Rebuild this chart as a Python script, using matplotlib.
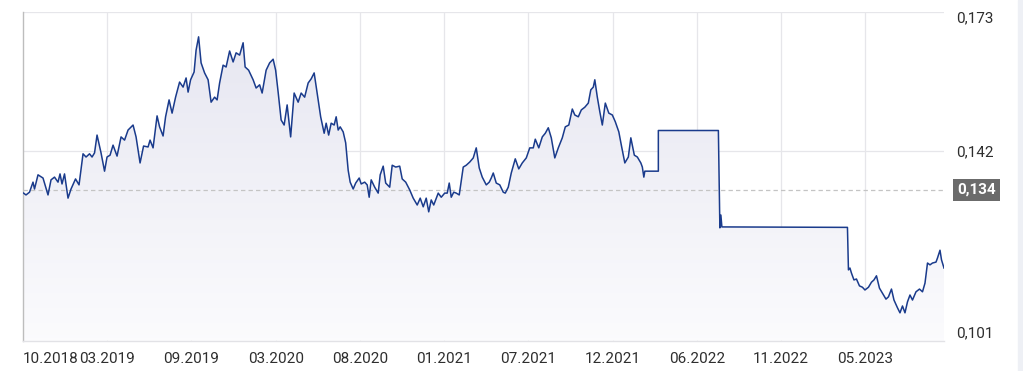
import numpy as np
import matplotlib
matplotlib.use("Agg")
import matplotlib.pyplot as plt
from matplotlib.colors import LinearSegmentedColormap

# ---- data: day offset from start (10.2018) and price ----
days = [1, 6, 13, 20, 23, 30, 40, 50, 56, 63, 70, 74, 78, 83, 90, 96, 105, 112, 120, 126,
        133, 138, 143, 148, 156, 163, 168, 174, 180, 188, 196, 203, 210, 220, 226, 234, 241, 250, 254, 260,
        268, 273, 280, 285, 292, 298, 305, 313, 320, 326, 330, 335, 342, 346, 351, 356, 363, 370, 376, 383,
        388, 393, 400, 406, 413, 420, 426, 433, 440, 444, 451, 460, 466, 473, 478, 486, 493, 500, 505, 510,
        516, 522, 528, 535, 542, 550, 556, 563, 570, 576, 582, 588, 595, 602, 606, 611, 616, 622, 626, 630,
        634, 640, 645, 650, 654, 660, 665, 672, 676, 683, 688, 692, 696, 703, 710, 714, 720, 725, 733, 738,
        745, 753, 758, 765, 773, 780, 788, 794, 800, 806, 811, 816, 821, 830, 836, 843, 848, 852, 856, 861,
        866, 872, 880, 886, 893, 900, 906, 912, 918, 926, 932, 936, 940, 946, 953, 960, 964, 970, 976, 984,
        991, 998, 1006, 1013, 1020, 1024, 1031, 1038, 1044, 1050, 1056, 1063, 1070, 1078, 1084, 1091, 1098, 1103, 1110, 1116,
        1123, 1130, 1135, 1140, 1143, 1148, 1153, 1158, 1164, 1171, 1178, 1184, 1191, 1196, 1203, 1210, 1215, 1222, 1228, 1235,
        1238, 1241, 1243, 1270, 1270, 1390, 1393, 1395, 1397, 1648, 1650, 1653, 1656, 1661, 1666, 1672, 1678, 1683, 1690, 1696,
        1701, 1706, 1712, 1718, 1725, 1730, 1736, 1741, 1748, 1753, 1758, 1763, 1768, 1773, 1778, 1785, 1792, 1798, 1803, 1808,
        1813, 1818, 1825, 1828, 1833, 1836, 1841]
prices = [0.1333, 0.1329, 0.1335, 0.1357, 0.1342, 0.1373, 0.1366, 0.1329, 0.1362, 0.1368, 0.1357, 0.1375, 0.1353, 0.1375, 0.1322, 0.1342, 0.1364, 0.1351, 0.1419, 0.1412,
          0.1419, 0.1412, 0.1421, 0.1460, 0.1421, 0.1381, 0.1412, 0.1416, 0.1438, 0.1414, 0.1456, 0.1449, 0.1471, 0.1482, 0.1456, 0.1399, 0.1436, 0.1434, 0.1449, 0.1432,
          0.1502, 0.1478, 0.1458, 0.1500, 0.1537, 0.1508, 0.1543, 0.1576, 0.1565, 0.1585, 0.1554, 0.1581, 0.1598, 0.1646, 0.1675, 0.1618, 0.1596, 0.1581, 0.1532, 0.1543,
          0.1537, 0.1574, 0.1613, 0.1609, 0.1644, 0.1620, 0.1640, 0.1635, 0.1662, 0.1609, 0.1602, 0.1581, 0.1563, 0.1570, 0.1552, 0.1602, 0.1618, 0.1626, 0.1602, 0.1554,
          0.1493, 0.1482, 0.1526, 0.1456, 0.1552, 0.1532, 0.1552, 0.1543, 0.1574, 0.1583, 0.1596, 0.1552, 0.1500, 0.1464, 0.1486, 0.1460, 0.1486, 0.1482, 0.1500, 0.1471,
          0.1478, 0.1467, 0.1443, 0.1383, 0.1357, 0.1342, 0.1355, 0.1366, 0.1353, 0.1357, 0.1351, 0.1324, 0.1362, 0.1346, 0.1333, 0.1373, 0.1392, 0.1355, 0.1346, 0.1394,
          0.1390, 0.1392, 0.1364, 0.1357, 0.1340, 0.1322, 0.1307, 0.1322, 0.1303, 0.1322, 0.1292, 0.1318, 0.1307, 0.1333, 0.1324, 0.1333, 0.1333, 0.1355, 0.1324, 0.1335,
          0.1333, 0.1329, 0.1390, 0.1394, 0.1401, 0.1410, 0.1432, 0.1388, 0.1368, 0.1351, 0.1357, 0.1366, 0.1377, 0.1355, 0.1351, 0.1335, 0.1333, 0.1346, 0.1377, 0.1408,
          0.1386, 0.1399, 0.1410, 0.1432, 0.1432, 0.1451, 0.1432, 0.1456, 0.1464, 0.1476, 0.1454, 0.1410, 0.1432, 0.1454, 0.1478, 0.1482, 0.1517, 0.1504, 0.1500, 0.1515,
          0.1521, 0.1530, 0.1559, 0.1565, 0.1581, 0.1543, 0.1511, 0.1482, 0.1530, 0.1508, 0.1504, 0.1489, 0.1467, 0.1438, 0.1399, 0.1412, 0.1454, 0.1416, 0.1412, 0.1399,
          0.1390, 0.1368, 0.1381, 0.1381, 0.1470, 0.1470, 0.1257, 0.1285, 0.1259, 0.1258, 0.1165, 0.1169, 0.1158, 0.1143, 0.1145, 0.1130, 0.1127, 0.1121, 0.1127, 0.1138,
          0.1143, 0.1152, 0.1125, 0.1114, 0.1101, 0.1106, 0.1123, 0.1099, 0.1082, 0.1071, 0.1086, 0.1071, 0.1095, 0.1110, 0.1099, 0.1117, 0.1123, 0.1117, 0.1136, 0.1180,
          0.1176, 0.1180, 0.1182, 0.1191, 0.1208, 0.1187, 0.1169]

x_labels = ["10.2018", "03.2019", "09.2019", "03.2020", "08.2020", "01.2021",
            "07.2021", "12.2021", "06.2022", "11.2022", "05.2023"]
tick_step_days = 168.4
y_ticks = [0.101, 0.1425, 0.173]
y_labels = ["0,101", "0,142", "0,173"]
ref_value = 0.134
ref_label = "0,134"

plt.rcParams['font.family'] = ['Roboto', 'DejaVu Sans']

W, H = 1023, 371
fig = plt.figure(figsize=(W / 100, H / 100), dpi=100)
ax_l, ax_r, ax_t, ax_b = 23, 944, 11.7, 340.7
ax = fig.add_axes([ax_l / W, 1 - ax_b / H, (ax_r - ax_l) / W, (ax_b - ax_t) / H])

x = np.array(days, dtype=float)
y = np.array(prices)
xmin, xmax = 0, 1841
ymin, ymax = 0.101, 0.173
ax.set_xlim(xmin, xmax)
ax.set_ylim(ymin, ymax)

# gradient fill under the curve
poly = ax.fill_between(x, y, ymin, color='none', lw=0)
cmap = LinearSegmentedColormap.from_list('g', [(0.985, 0.985, 0.993), (0.905, 0.905, 0.945)])
grad = np.linspace(0, 1, 256).reshape(-1, 1)
im = ax.imshow(grad, cmap=cmap, aspect='auto', origin='lower',
               extent=[xmin, xmax, ymin, 0.168], zorder=1)
path = poly.get_paths()[0]
im.set_clip_path(path, transform=ax.transData)

ax.plot(x, y, color='#1a3b8c', lw=1.1, zorder=3, solid_joinstyle='round')

# reference dashed line
ax.axhline(ref_value, color='#c4c4c4', lw=0.9, ls=(0, (3.5, 2.5)), zorder=2)

# grid
ticks = np.arange(len(x_labels)) * tick_step_days
ax.set_xticks(ticks)
ax.set_xticklabels(x_labels)
for t in ticks[1:]:
    ax.axvline(t, color='#e6e6ea', lw=0.9, zorder=0.5)
for t in y_ticks[1:]:
    ax.axhline(t, color='#e6e6ea', lw=0.9, zorder=0.5)

FS = 11
ax.tick_params(axis='x', length=0, pad=8, labelsize=FS, labelcolor='#2e2e2e')
labs = ax.get_xticklabels()
labs[0].set_horizontalalignment('left')

ax.yaxis.tick_right()
ax.set_yticks(y_ticks)
ax.set_yticklabels(y_labels)
ax.tick_params(axis='y', length=0, pad=9, labelsize=FS, labelcolor='#2e2e2e')
ylabs = ax.get_yticklabels()
ylabs[0].set_verticalalignment('bottom')
ylabs[2].set_verticalalignment('top')

for s in ['top', 'right']:
    ax.spines[s].set_visible(False)
ax.spines['left'].set_color('#bdbdbd')
ax.spines['left'].set_linewidth(1.0)
ax.spines['bottom'].set_color('#e2e2e6')
ax.spines['bottom'].set_linewidth(1.0)

# current value box
ax.text(1.0 + 13.5 / (ax_r - ax_l), ref_value, ref_label, transform=ax.get_yaxis_transform(),
        ha='left', va='center', color='white', fontsize=FS, fontweight='bold',
        bbox=dict(boxstyle='square,pad=0.28', fc='#6b6b6b', ec='none'))

# right side strip
fig.patches.append(plt.Rectangle((1018 / W, 0), 5 / W, 1, transform=fig.transFigure,
                                 color='#eef0f5', zorder=0))

fig.savefig('out.png', dpi=100)
